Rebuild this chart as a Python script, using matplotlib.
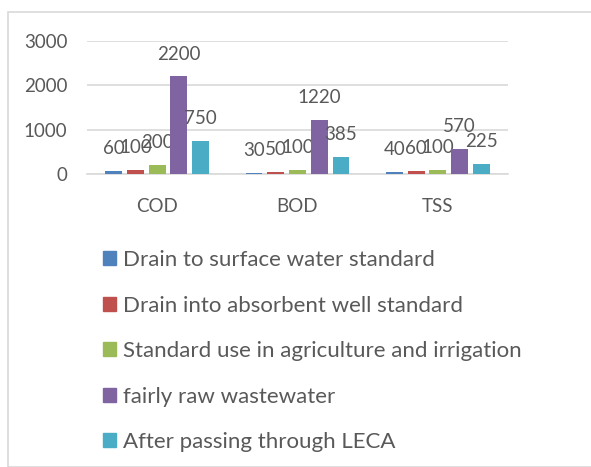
import matplotlib.pyplot as plt
import numpy as np
from matplotlib.patches import Rectangle, Patch

categories = ['COD', 'BOD', 'TSS']
series_names = ['Drain to surface water standard',
                'Drain into absorbent well standard',
                'Standard use in agriculture and irrigation',
                'fairly raw wastewater',
                'After passing through LECA']
surface = [60, 30, 40]
absorbent = [100, 50, 60]
agriculture = [200, 100, 100]
raw = [2200, 1220, 570]
leca = [750, 385, 225]
yticks = [0, 1000, 2000, 3000]

values = [surface, absorbent, agriculture, raw, leca]
colors = ['#4F81BD', '#C0504D', '#9BBB59', '#8064A2', '#4BACC6']
text_col = '#595959'

plt.rcParams['font.family'] = ['Lato', 'DejaVu Sans']

W, H = 591, 467
fig = plt.figure(figsize=(W / 100, H / 100), dpi=100)
fig.patches.append(Rectangle((8 / W, 0), 1.0, 1 - 12 / H, transform=fig.transFigure,
                             fill=False, edgecolor='#d9d9d9', lw=1.2))

ax = fig.add_axes([87 / W, 1 - 174 / H, (508 - 87) / W, (174 - 41) / H])
x = np.arange(len(categories))
width = 0.12
step = 0.155
for i, (vals, c) in enumerate(zip(values, colors)):
    pos = x + (i - 2) * step
    ax.bar(pos, vals, width, color=c, zorder=3, label=series_names[i])
    for p, v in zip(pos, vals):
        ax.annotate(str(v), (p, v), xytext=(0, 10), textcoords='offset points',
                    ha='center', va='bottom', fontsize=13.5, color=text_col)

ax.set_xlim(-0.5, 2.5)
ax.set_ylim(0, 3000)
ax.set_yticks(yticks)
ax.set_xticks(x)
ax.set_xticklabels(categories)
ax.tick_params(axis='both', length=0, labelsize=13.5, colors=text_col)
ax.tick_params(axis='x', pad=17)
ax.tick_params(axis='y', pad=14)
ax.grid(axis='y', color='#d9d9d9', lw=1.2, zorder=0)
for s in ['top', 'right', 'left']:
    ax.spines[s].set_visible(False)
ax.spines['bottom'].set_color('#d9d9d9')
ax.spines['bottom'].set_linewidth(1.2)

handles = [Patch(color=c) for c in colors]
fig.legend(handles, series_names, loc='upper left', bbox_to_anchor=(83 / W, 1 - 230 / H),
           frameon=False, fontsize=16, handlelength=0.6, handleheight=0.6,
           handletextpad=0.3, labelspacing=1.15, labelcolor=text_col)

fig.savefig('out.png', dpi=100)
